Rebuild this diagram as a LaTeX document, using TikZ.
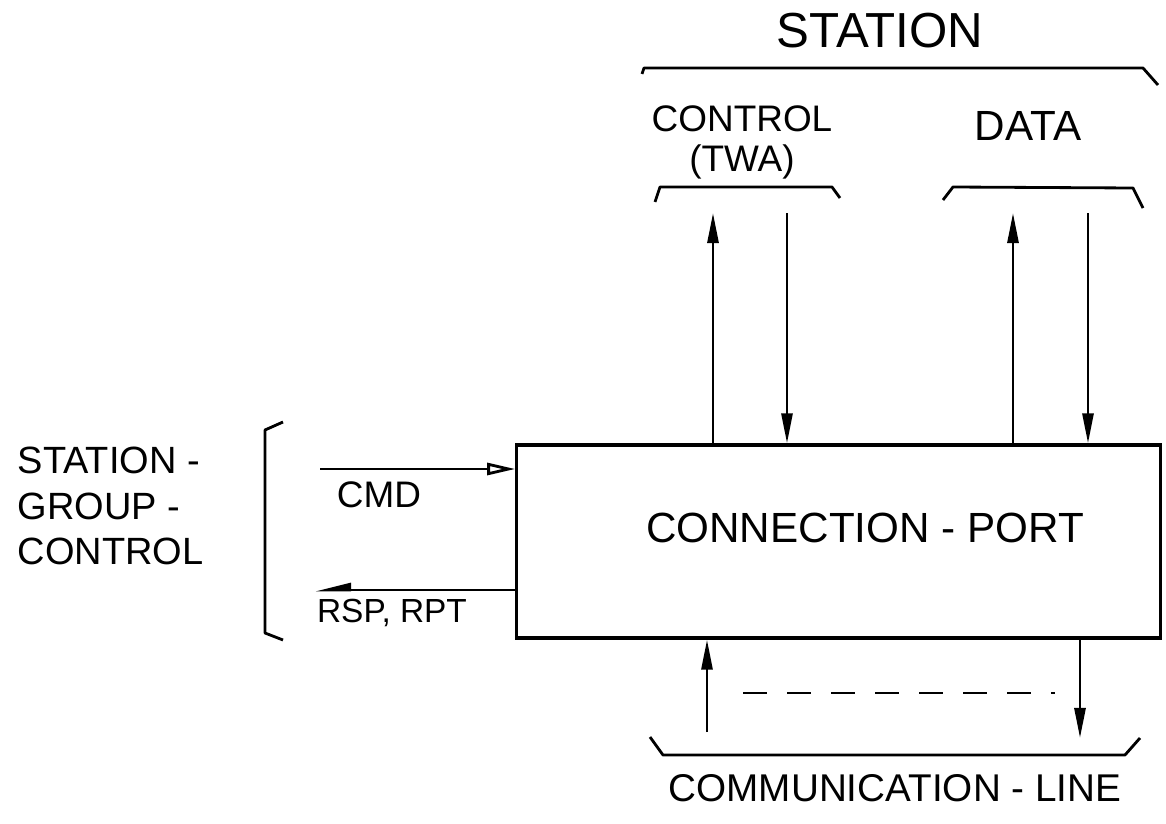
\documentclass[tikz,border=0pt]{standalone}
\usepackage{fontspec}
\setmainfont{Liberation Sans}
\usetikzlibrary{arrows.meta}
\tikzset{
  lbl/.style={inner sep=0pt, align=center, text=black},
  portbox/.style={rectangle, draw=black, line width=0.9pt,
                  minimum width=6.43cm, minimum height=1.93cm},
  arr/.style={-{Triangle[length=0.3cm, width=0.11cm]}, line width=0.8pt},
  openarr/.style={-{Triangle[open, length=0.28cm, width=0.12cm]}, line width=0.8pt},
  halfarr/.style={-{Triangle[harpoon, swap, length=0.3cm, width=0.14cm]}, line width=0.8pt},
  brace/.style={line width=0.8pt, line join=round},
}

\begin{document}
\begin{tikzpicture}[x=0.01cm, y=-0.01cm]
  \useasboundingbox (0,0) rectangle (1166,824);

  %% STATION
  \node[lbl, font=\fontsize{14pt}{16pt}\selectfont] (station) at (880,31) {STATION};
  \draw[brace] (642,74) -- (644,68) -- (1143,68) -- (1158,85);

  \node[lbl, font=\fontsize{10.5pt}{11.4pt}\selectfont] (ctl) at (742,142) {CONTROL\\(TWA)};
  \draw[brace] (655,202) -- (660,187) -- (832,187) -- (840,198);

  \node[lbl, font=\fontsize{12pt}{14pt}\selectfont] (data) at (1028,126) {DATA};
  \draw[brace] (943,200) -- (953,187) -- (1133,188) -- (1143,208);

  %% CONNECTION PORT
  \node[portbox] (port) at (838.5,541.5) {};
  \node[lbl, font=\fontsize{12pt}{14pt}\selectfont] (portlbl) at (865,528) {CONNECTION - PORT};

  \coordinate (ctlup) at (713,213);
  \coordinate (ctldn) at (787,213);
  \coordinate (datup) at (1013,213);
  \coordinate (datdn) at (1088,213);

  \draw[arr] (ctlup |- port.north) -- (ctlup);
  \draw[arr] (ctldn) -- (ctldn |- port.north);
  \draw[arr] (datup |- port.north) -- (datup);
  \draw[arr] (datdn) -- (datdn |- port.north);

  %% STATION GROUP CONTROL
  \node[lbl, align=left, anchor=west, font=\fontsize{10.8pt}{13pt}\selectfont] (sgc)
       at (17,506) {STATION -\\GROUP -\\CONTROL};
  \draw[brace] (283,422) -- (265,430) -- (265,633) -- (283,640);

  \coordinate (cmdin) at (320,469);
  \coordinate (rspout) at (315,590);
  \draw[openarr] (cmdin) -- (cmdin -| port.west);
  \draw[halfarr] (rspout -| port.west) -- (rspout);
  \node[lbl, font=\fontsize{10.5pt}{12pt}\selectfont] (cmd) at (379,495) {CMD};
  \node[lbl, font=\fontsize{9.5pt}{11pt}\selectfont] (rsp) at (392,613) {RSP, RPT};

  %% COMMUNICATION LINE
  \coordinate (lineup) at (707,732);
  \coordinate (linedn) at (1080,738);
  \draw[arr] (lineup) -- (lineup |- port.south);
  \draw[arr] (linedn |- port.south) -- (linedn);

  \coordinate (dsha) at (743,693);
  \coordinate (dshb) at (1055,693);
  \draw[line width=0.8pt, dash pattern=on 0.24cm off 0.2cm] (dsha) -- (dshb);

  \draw[brace] (650,737) -- (663,755) -- (1125,755) -- (1140,738);
  \node[lbl, font=\fontsize{11pt}{13pt}\selectfont] (comm) at (895,788) {COMMUNICATION - LINE};

\end{tikzpicture}
\end{document}
